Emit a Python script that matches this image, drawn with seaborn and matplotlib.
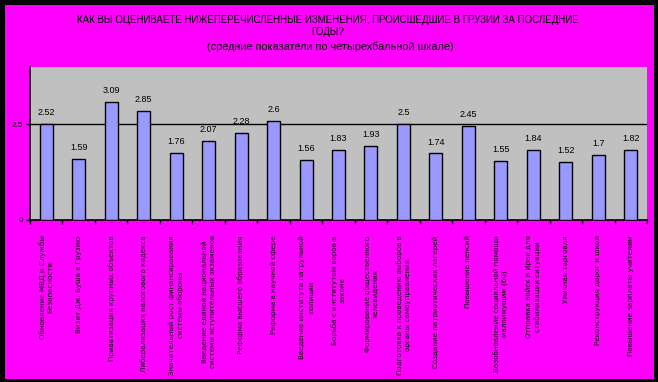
import matplotlib
matplotlib.use("Agg")
import matplotlib.pyplot as plt
import seaborn as sns
import pandas as pd
from matplotlib.patches import Rectangle

# data
labels = [
    "Обновление МВД и Службы\nБезопасности",
    "Визит Дж. Буша в Грузию",
    "Приватизация крупных объектов",
    "Либерализация налогового кодекса",
    "Значительный рост финансирования\nсистемы обороны",
    "Введение единой национальной\nсистемы вступительных экзаменов",
    "Реформа высшего образования",
    "Реформа в научной сфере",
    "Введение института патрульной\nполиции",
    "Борьба с институтом воров в\nзаконе",
    "Формирование общественного\nтелевидения",
    "Подготовка к проведению выборов в\nорганы самоуправления",
    "Создание патриотических лагерей",
    "Повышение пенсий",
    "Возобновление социальной помощи\nмалоимущим (60)",
    "Отправка войск в Ирак для\nстабилизации ситуации",
    "Уличная торговля",
    "Реконструкция дорог и школ",
    "Повышение зарплаты учителям",
]
values = [2.52, 1.59, 3.09, 2.85, 1.76, 2.07, 2.28, 2.6, 1.56, 1.83,
          1.93, 2.5, 1.74, 2.45, 1.55, 1.84, 1.52, 1.7, 1.82]
y_ticks = [0, 2.5]
y_tick_labels = ["0", "2.5"]

title_lines = [
    "КАК ВЫ ОЦЕНИВАЕТЕ НИЖЕПЕРЕЧИСЛЕННЫЕ ИЗМЕНЕНИЯ, ПРОИСШЕДШИЕ В ГРУЗИИ ЗА ПОСЛЕДНИЕ",
    "ГОДЫ?",
    "(средние показатели по четырехбальной шкале)",
]

df = pd.DataFrame({"label": labels, "value": values})

plt.rcParams["font.family"] = ["Liberation Sans", "DejaVu Sans"]

W, H = 658, 382
fig = plt.figure(figsize=(W / 100, H / 100), dpi=100, facecolor="black")
# magenta panel inside a black frame
fig.patches.append(Rectangle((5 / W, 3 / H), 649 / W, 374 / H,
                             transform=fig.transFigure, facecolor="#FF00FF",
                             edgecolor="none", zorder=-5))

ax = fig.add_axes([30 / W, (H - 220) / H, 617 / W, 153 / H])
ax.set_zorder(2)
ax.set_facecolor("#C0C0C0")

sns.barplot(data=df, x="label", y="value", color="#9999FF", width=0.4,
            edgecolor="black", linewidth=1, saturation=1, ax=ax, zorder=3)

ax.set_ylim(0, 4)
ax.set_xlim(-0.5, len(values) - 0.5)
ax.set_yticks(y_ticks)
ax.set_yticklabels(y_tick_labels, fontsize=5.8)
ax.axhline(2.5, color="black", lw=1, zorder=2)

ax.bar_label(ax.containers[0], fmt="%g", padding=5, fontsize=6.5)

# category labels, ticks between categories
ax.set_xticks(range(len(labels)))
ax.set_xticklabels(labels, rotation=90, fontsize=5.1, va="top", ha="center",
                   linespacing=1.35, family="DejaVu Sans")
ax.tick_params(axis="x", which="major", length=0, pad=11)
ax.set_xticks([i - 0.5 for i in range(len(labels) + 1)], minor=True)
ax.tick_params(axis="x", which="minor", length=3, width=1, color="black")
ax.tick_params(axis="y", length=3, width=1, color="black", pad=2)

ax.set_xlabel("")
ax.set_ylabel("")
for s in ["top", "right"]:
    ax.spines[s].set_visible(False)
for s in ["left", "bottom"]:
    ax.spines[s].set_color("black")
    ax.spines[s].set_linewidth(1.2)

fig.text(328 / W, 1 - 20 / H, title_lines[0], ha="center", va="center", fontsize=7)
fig.text(328 / W, 1 - 32 / H, title_lines[1], ha="center", va="center", fontsize=7)
fig.text(330 / W, 1 - 47 / H, title_lines[2], ha="center", va="center", fontsize=7.8)

fig.savefig("out.png", dpi=100, facecolor="black")
